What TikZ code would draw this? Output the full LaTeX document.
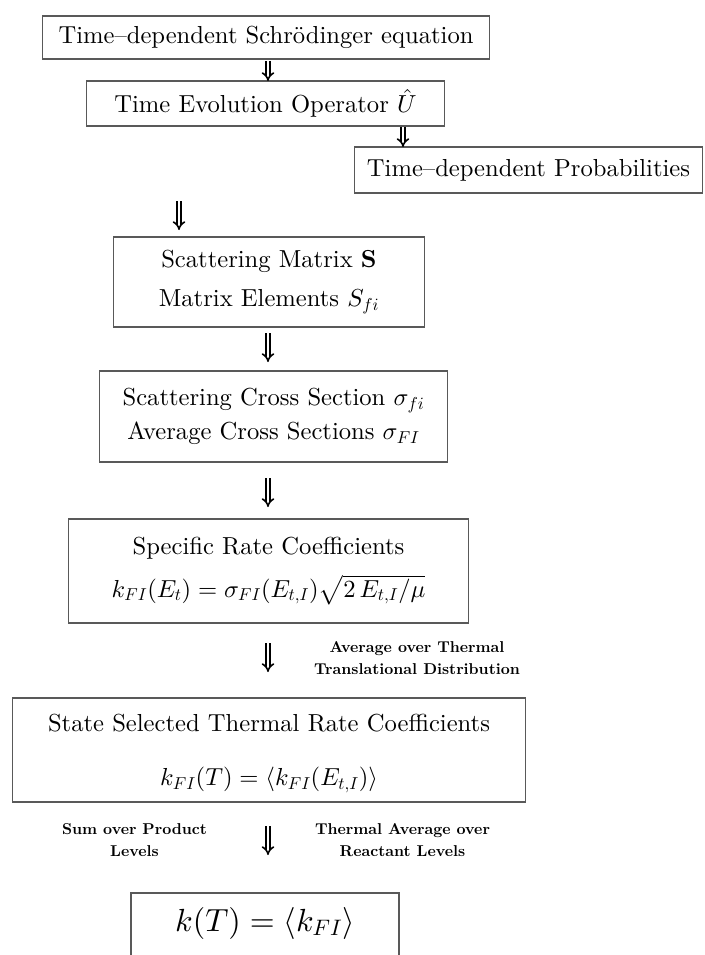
\documentclass[tikz,border=0pt]{standalone}
\usepackage{amsmath}
\usepackage{fontspec}
\setmainfont{lmroman10-regular.otf}[BoldFont=lmroman10-bold.otf, ItalicFont=lmroman10-italic.otf, BoldItalicFont=lmroman10-bolditalic.otf]
\DeclareFontShape{OML}{cmm}{m}{it}{<->cmmi10}{}
\DeclareFontShape{OML}{cmm}{b}{it}{<->cmmib10}{}
\DeclareFontShape{OMS}{cmsy}{m}{n}{<->cmsy10}{}
\DeclareFontShape{OMX}{cmex}{m}{n}{<->cmex10}{}
\DeclareFontShape{OT1}{cmr}{m}{n}{<->cmr10}{}
\DeclareFontShape{OT1}{cmr}{bx}{n}{<->cmbx10}{}
\usetikzlibrary{arrows.meta}
\tikzset{
  box/.style={draw=black!65, line width=1.4pt, fill=white, inner sep=0pt, align=center,
     font=\fontsize{24.6}{30}\selectfont},
  bigtext/.style={inner sep=0pt, font=\fontsize{32}{38}\selectfont},
  boxline/.style={draw=black!65, line width=1.4pt},
  lab/.style={inner sep=0pt, align=center, font=\fontsize{15.7}{22.5}\selectfont\bfseries},
  dbl/.style={double=white, draw=black, double distance=2.6pt, line width=1.6pt, -{Implies}}
}
\begin{document}
\begin{tikzpicture}[x=1pt,y=-1pt]
\useasboundingbox[fill=white] (0,0) rectangle (704,955);
% boxes
\node[box, minimum width=447, minimum height=43] (b1) at (266,37.5) {Time--dependent Schrödinger equation};
\node[box, minimum width=358, minimum height=45] (b2) at (265.5,103.5) {Time Evolution Operator $\hat U$};
\node[box, minimum width=348, minimum height=46] (b3) at (528.5,170) {Time--dependent Probabilities};
\node[box, minimum width=311, minimum height=90] (b4) at (269,282) {Scattering Matrix $\mathbf{S}$\\[9pt] Matrix Elements $S_{fi}$};
\node[box, minimum width=348, minimum height=91] (b5) at (273.5,416.5) {Scattering Cross Section $\sigma_{fi}$\\[4pt] Average Cross Sections $\sigma_{FI}$};
\node[box, minimum width=400, minimum height=104] (b6) at (268.5,571) {Specific Rate Coefficients\\[13pt] $k_{FI}(E_t) = \sigma_{FI}(E_{t,I})\sqrt{2\,E_{t,I}/\mu}$};
\node[box, minimum width=513, minimum height=104] (b7) at (269,750) {\rule{0pt}{25pt}State Selected Thermal Rate Coefficients\\[24pt] $k_{FI}(T) = \langle k_{FI}(E_{t,I})\rangle$};
\draw[boxline] (131,990) -- (131,893) -- (399,893) -- (399,990);
\node[bigtext] (b8) at (265,923) {$k(T) = \langle k_{FI}\rangle$};
% labels
\node[lab] (l6) at (417,658) {Average over Thermal\\Translational Distribution};
\node[lab] (l7a) at (134.5,840) {Sum over Product\\Levels};
\node[lab] (l7b) at (402.5,840) {Thermal Average over\\Reactant Levels};
% arrow end points
\coordinate (a1s) at (268,61); \coordinate (a1e) at (268,81);
\coordinate (a2s) at (403,127); \coordinate (a2e) at (403,147);
\coordinate (a3s) at (179,201); \coordinate (a3e) at (179,230);
\coordinate (a4s) at (268,333); \coordinate (a4e) at (268,362);
\coordinate (a5s) at (268,478); \coordinate (a5e) at (268,507);
\coordinate (a6s) at (268,643); \coordinate (a6e) at (268,672);
\coordinate (a7s) at (268,826); \coordinate (a7e) at (268,855);
\draw[dbl] (a1s) -- (a1e);
\draw[dbl] (a2s) -- (a2e);
\draw[dbl] (a3s) -- (a3e);
\draw[dbl] (a4s) -- (a4e);
\draw[dbl] (a5s) -- (a5e);
\draw[dbl] (a6s) -- (a6e);
\draw[dbl] (a7s) -- (a7e);
\end{tikzpicture}
\end{document}
